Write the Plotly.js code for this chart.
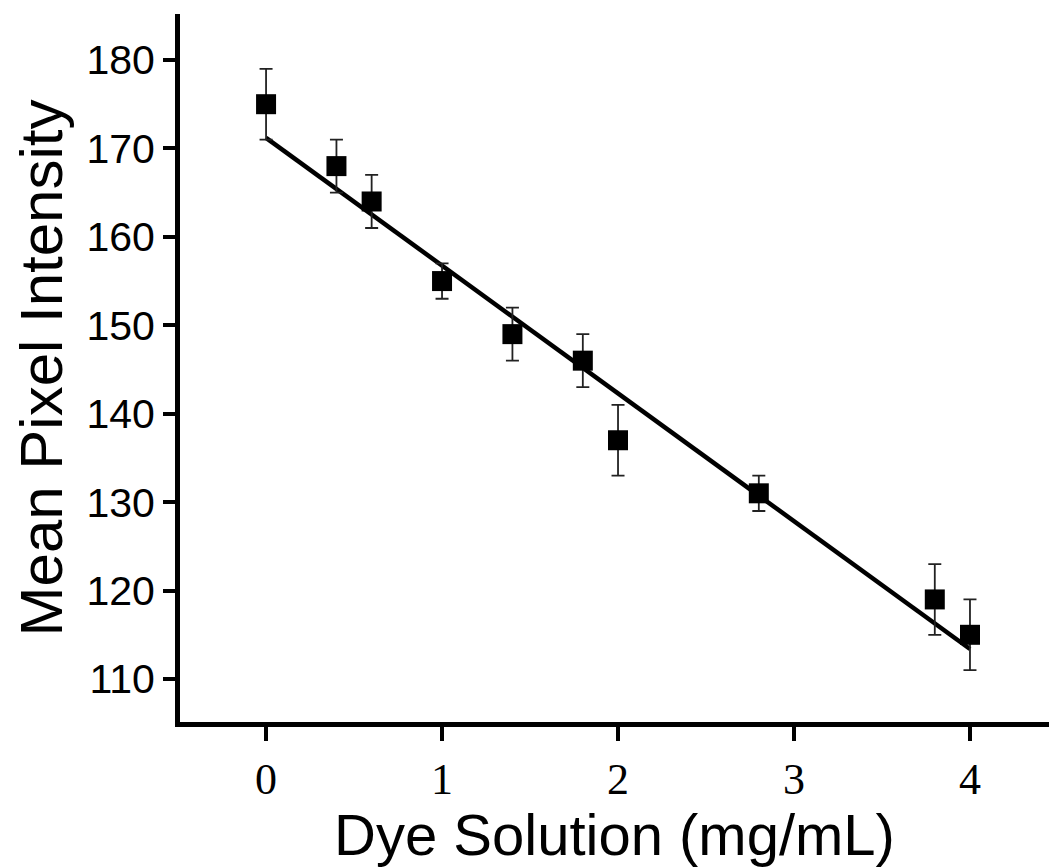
<!DOCTYPE html>
<html>
<head>
<meta charset="utf-8">
<script src="https://cdn.plot.ly/plotly-3.0.1.min.js"></script>
<style>html,body{margin:0;padding:0;background:#fff;}#chart{width:1049px;height:867px;}</style>
</head>
<body>
<div id="chart"></div>
<script>
const concentration = [0, 0.4, 0.6, 1.0, 1.4, 1.8, 2.0, 2.8, 3.8, 4.0];
const intensity = [175, 168, 164, 155, 149, 146, 137, 131, 119, 115];
const errors = [4, 3, 3, 2, 3, 3, 4, 2, 4, 4];
const fitX = [0, 4];
const fitY = [171.2, 113.4];
const xTicks = [0, 1, 2, 3, 4];
const yTicks = [110, 120, 130, 140, 150, 160, 170, 180];

const traces = [
  {
    x: fitX, y: fitY, mode: 'lines', type: 'scatter',
    line: {color: '#000', width: 4.5}, hoverinfo: 'skip'
  },
  {
    x: concentration, y: intensity, mode: 'markers', type: 'scatter',
    marker: {symbol: 'square', size: 20, color: '#000'},
    error_y: {type: 'data', array: errors, visible: true, color: '#222', thickness: 1.8, width: 6.5}
  }
];

const layout = {
  width: 1049, height: 867,
  margin: {l: 180, r: 0, t: 14, b: 145},
  paper_bgcolor: '#fff', plot_bgcolor: '#fff',
  showlegend: false,
  xaxis: {
    range: [-0.489, 4.449],
    tickvals: xTicks, ticktext: xTicks.map(String),
    showline: true, linecolor: '#000', linewidth: 5,
    ticks: 'outside', ticklen: 14, tickwidth: 4, tickcolor: '#000',
    showgrid: false, zeroline: false,
    tickfont: {family: 'Liberation Serif, Times New Roman, serif', size: 44, color: '#000'},
    title: {text: 'Dye Solution (mg/mL)', font: {family: 'Liberation Sans, Arial, sans-serif', size: 58, color: '#000'}, standoff: 6}
  },
  yaxis: {
    range: [105.14, 185.2],
    tickvals: yTicks, ticktext: yTicks.map(String),
    showline: true, linecolor: '#000', linewidth: 5,
    ticks: 'outside', ticklen: 12, tickwidth: 4, tickcolor: '#000',
    showgrid: false, zeroline: false,
    tickfont: {family: 'Liberation Sans, Arial, sans-serif', size: 41, color: '#000'},
    title: {text: 'Mean Pixel Intensity', font: {family: 'Liberation Sans, Arial, sans-serif', size: 60, color: '#000'}, standoff: 6}
  }
};

Plotly.newPlot('chart', traces, layout, {displayModeBar: false, staticPlot: true});
</script>
</body>
</html>
